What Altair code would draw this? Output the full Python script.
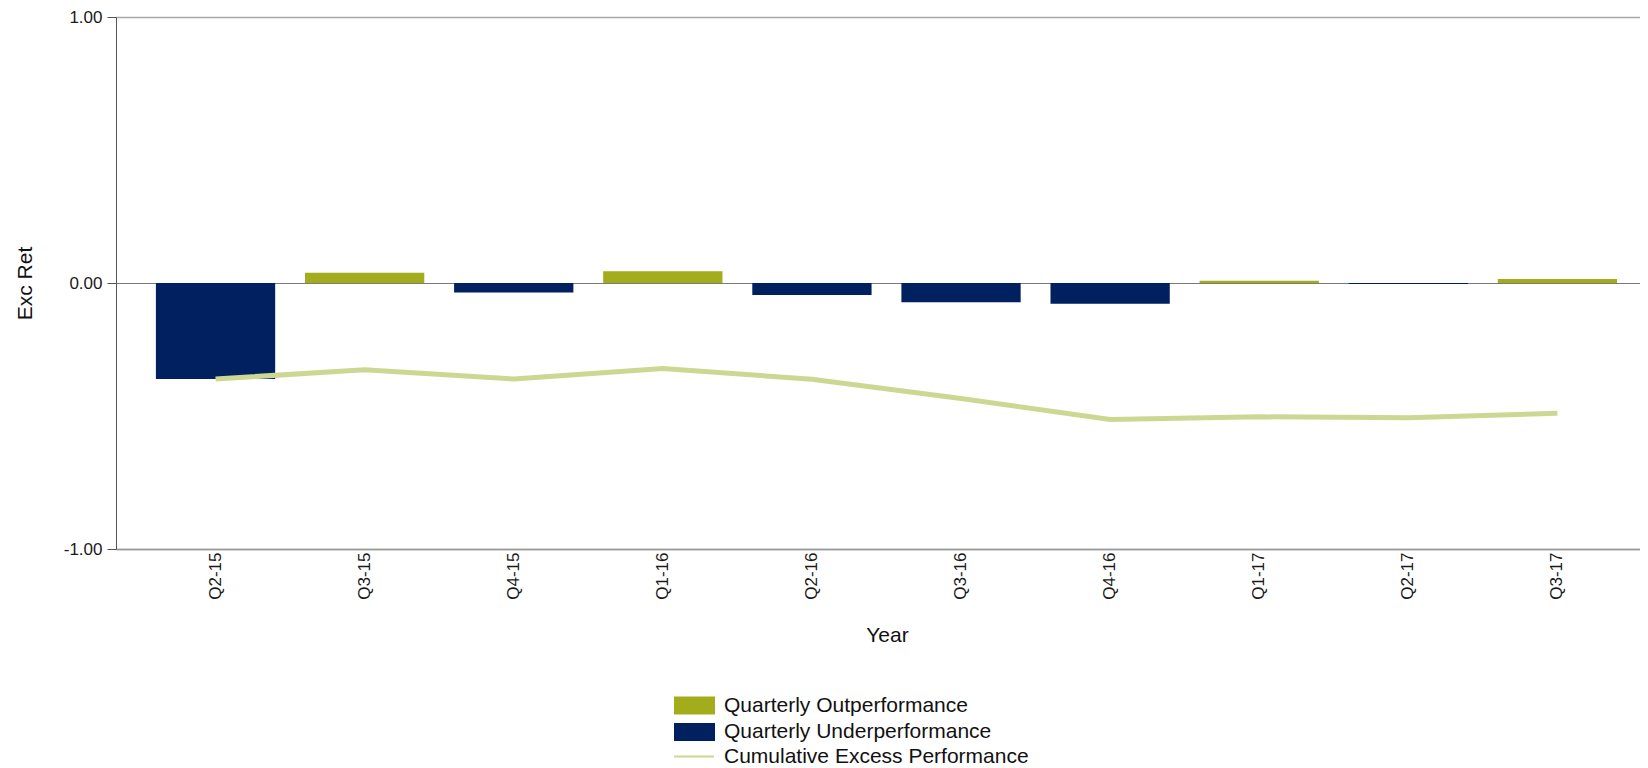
import altair as alt
import pandas as pd

quarters = ["Q2-15", "Q3-15", "Q4-15", "Q1-16", "Q2-16", "Q3-16", "Q4-16", "Q1-17", "Q2-17", "Q3-17"]
quarterly = [-0.361, 0.039, -0.036, 0.044, -0.045, -0.072, -0.078, 0.008, -0.004, 0.015]
cumulative = [-0.361, -0.326, -0.361, -0.321, -0.362, -0.434, -0.513, -0.503, -0.507, -0.490]

OUT = "Quarterly Outperformance"
UNDER = "Quarterly Underperformance"
CUM = "Cumulative Excess Performance"

df = pd.DataFrame({
    "quarter": quarters,
    "ret": quarterly,
    "perf": [OUT if v > 0 else UNDER for v in quarterly],
    "cum": cumulative,
    "series": [CUM] * len(quarters),
})

FONT = "Liberation Sans"

x_enc = alt.X(
    "quarter:N",
    sort=quarters,
    scale=alt.Scale(paddingInner=0.2, paddingOuter=0.2107, align=0.635),
    axis=alt.Axis(
        title="Year",
        labelAngle=270,
        labelFontSize=17,
        labelPadding=3,
        labelColor="#1a1a1a",
        ticks=False,
        domainColor="#999999",
        domainWidth=1.5,
        titleFontSize=21,
        titleFontWeight="normal",
        titleColor="#111111",
        titleBaseline="alphabetic",
        titleX=771,
        titleY=92,
    ),
)

y_scale = alt.Scale(domain=[-1, 1], nice=False)
y_axis = alt.Axis(
    title="Exc Ret",
    values=[-1, 0, 1],
    labelExpr="datum.value < 0 ? '-' + format(-datum.value, '.2f') : format(datum.value, '.2f')",
    labelFontSize=17,
    labelPadding=5,
    labelColor="#1a1a1a",
    tickSize=9,
    tickColor="#555555",
    domainColor="#555555",
    domainWidth=1,
    grid=True,
    gridColor={"expr": "datum.value == 0 ? '#7a7a7a' : '#a8a8a8'"},
    gridWidth={"expr": "datum.value == 0 ? 1 : 1.6"},
    titleFontSize=21,
    titleFontWeight="normal",
    titleColor="#111111",
    titleAngle=270,
    titleBaseline="alphabetic",
    titleX=-85,
    titleY=266,
)

legend_common = dict(
    title=None,
    orient="none",
    legendX=557,
    symbolSize=441,
    labelOffset=28,
    padding=0,
    labelFontSize=21,
    labelColor="#111111",
    labelFont=FONT,
    labelLimit=500,
)

bars = alt.Chart(df).mark_bar().encode(
    x=x_enc,
    y=alt.Y("ret:Q", scale=y_scale, axis=y_axis),
    color=alt.Color(
        "perf:N",
        scale=alt.Scale(domain=[OUT, UNDER], range=["#a3ad1b", "#002060"]),
        legend=alt.Legend(
            legendY=677,
            symbolType="M-1,-0.857H2.905V0.857H-1Z",
            rowPadding=4.5,
            **legend_common,
        ),
    ),
)

line = alt.Chart(df).mark_line(strokeWidth=5).encode(
    x=alt.X("quarter:N", sort=quarters),
    y=alt.Y("cum:Q", scale=y_scale),
    stroke=alt.Stroke(
        "series:N",
        scale=alt.Scale(domain=[CUM], range=["#ccd892"]),
        legend=alt.Legend(
            legendY=728,
            symbolType="M-1,0H2.81",
            symbolStrokeWidth=2,
            **legend_common,
        ),
    ),
)

chart = (
    alt.layer(bars, line)
    .resolve_scale(y="shared")
    .properties(
        width=1524,
        height=532,
        autosize=alt.AutoSizeParams(type="none"),
        padding={"left": 108, "top": 9, "right": 0, "bottom": 218},
    )
    .configure(font=FONT)
    .configure_view(strokeWidth=0)
    .configure_axis(labelFont=FONT, titleFont=FONT)
    .configure_legend(labelFont=FONT)
)

chart.save("out.html", embed_options={"renderer": "svg", "actions": False})
